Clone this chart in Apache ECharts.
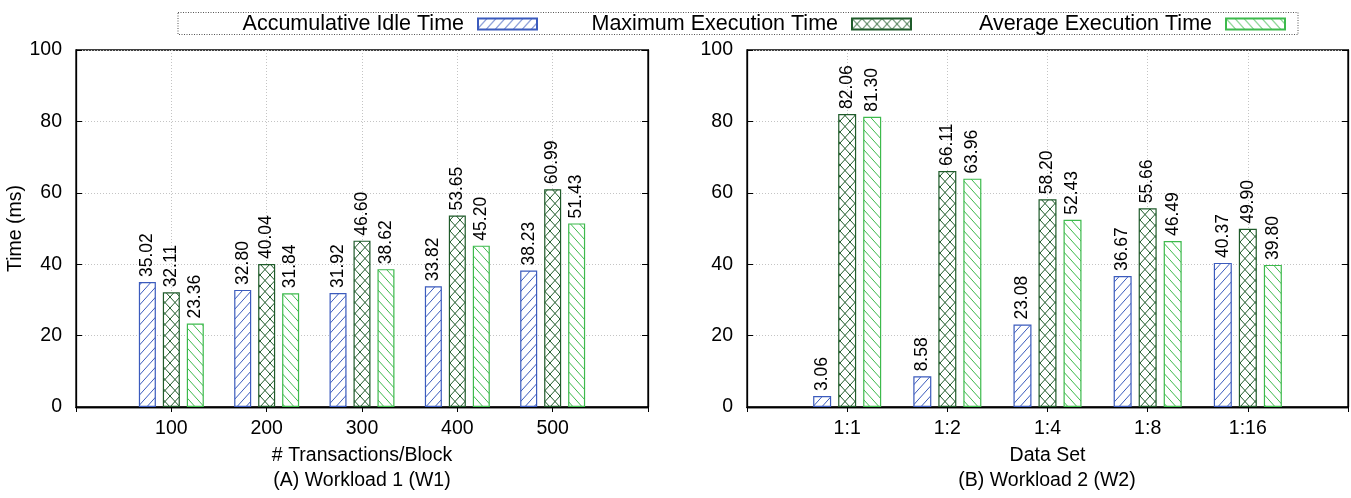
<!DOCTYPE html>
<html>
<head>
<meta charset="utf-8">
<title>Idle and Execution Time per Workload</title>
<script src="https://cdn.jsdelivr.net/npm/echarts@6/dist/echarts.min.js"></script>
<style>
  html, body { margin: 0; padding: 0; background: #fff; }
  #chart { width: 1351px; height: 498px; }
</style>
</head>
<body>
<div id="chart"></div>
<script>
// ---- data ----
const seriesNames = ['Accumulative Idle Time', 'Maximum Execution Time', 'Average Execution Time'];

const catsW1 = ['100', '200', '300', '400', '500'];
const idleW1 = [35.02, 32.80, 31.92, 33.82, 38.23];
const maxW1  = [32.11, 40.04, 46.60, 53.65, 60.99];
const avgW1  = [23.36, 31.84, 38.62, 45.20, 51.43];

const catsW2 = ['1:1', '1:2', '1:4', '1:8', '1:16'];
const idleW2 = [3.06, 8.58, 23.08, 36.67, 40.37];
const maxW2  = [82.06, 66.11, 58.20, 55.66, 49.90];
const avgW2  = [81.30, 63.96, 52.43, 46.49, 39.80];

const yMin = 0, yMax = 100, yStep = 20;

// ---- styling ----
const FONT = '"Liberation Sans", Arial, Helvetica, sans-serif';
const BLUE = '#3b5bbd';
const DARK = '#1f5b2a';
const LIGHT = '#3dba4c';

// hatch tiles used as bar fills
function hatchTile(color, w, h, dirs) {
  const c = document.createElement('canvas');
  c.width = w; c.height = h;
  const g = c.getContext('2d');
  g.fillStyle = '#fff';
  g.fillRect(0, 0, w, h);
  g.strokeStyle = color;
  g.lineWidth = 1;
  dirs.forEach(d => {
    for (let k = -1; k <= 1; k++) {
      g.beginPath();
      if (d === '/') {
        g.moveTo(k * w, h); g.lineTo((k + 1) * w, 0);
      } else {
        g.moveTo(k * w, 0); g.lineTo((k + 1) * w, h);
      }
      g.stroke();
    }
  });
  return { image: c, repeat: 'repeat' };
}

const fills = [
  hatchTile(BLUE, 9, 10, ['/']),
  hatchTile(DARK, 10, 11, ['/', '\\']),
  hatchTile(LIGHT, 9, 10, ['\\'])
];
const borders = [BLUE, DARK, LIGHT];

const pad = a => [null, ...a, null];
const padCats = a => ['', ...a, ''];

const AXIS_LINE = { show: true, lineStyle: { color: '#000', width: 1.3 } };
const GRID_LINE = { color: '#c4c4c4', type: [1, 2], width: 1 };

function bottomX(gridIndex, cats, name) {
  return {
    type: 'category', gridIndex, data: padCats(cats), boundaryGap: false,
    axisLine: AXIS_LINE,
    axisTick: { show: false },
    axisLabel: { interval: 0, margin: 12, color: '#000', fontSize: 19.5, fontFamily: FONT },
    splitLine: { show: true, interval: 0, lineStyle: GRID_LINE },
    name, nameLocation: 'middle', nameGap: 39,
    nameTextStyle: { color: '#000', fontSize: 19.5, fontFamily: FONT }
  };
}
function topX(gridIndex, cats) {
  return {
    type: 'category', gridIndex, data: padCats(cats), boundaryGap: false, position: 'top',
    axisLine: AXIS_LINE,
    axisTick: { show: true, inside: true, length: 5, interval: 0, lineStyle: { color: '#000' } },
    axisLabel: { show: false }, splitLine: { show: false }
  };
}
function leftY(gridIndex, name) {
  return {
    type: 'value', gridIndex, min: yMin, max: yMax, interval: yStep, position: 'left',
    axisLine: AXIS_LINE,
    axisTick: { show: true, inside: true, length: 6, lineStyle: { color: '#000' } },
    axisLabel: { margin: 14, color: '#000', fontSize: 19.5, fontFamily: FONT },
    splitLine: { show: true, lineStyle: GRID_LINE },
    name: name || '', nameLocation: 'middle', nameGap: 42,
    nameTextStyle: { color: '#000', fontSize: 19.5, fontFamily: FONT }
  };
}
function rightY(gridIndex) {
  return {
    type: 'value', gridIndex, min: yMin, max: yMax, interval: yStep, position: 'right',
    axisLine: AXIS_LINE,
    axisTick: { show: true, inside: true, length: 6, lineStyle: { color: '#000' } },
    axisLabel: { show: false }, splitLine: { show: false }
  };
}

function barSeries(i, values, xIdx, yIdx, width, gap) {
  return {
    type: 'bar', name: seriesNames[i], xAxisIndex: xIdx, yAxisIndex: yIdx,
    data: pad(values), barWidth: width, barGap: gap,
    itemStyle: { color: fills[i], borderColor: borders[i], borderWidth: 1.2 },
    label: {
      show: true, position: 'top', rotate: 90, align: 'left', verticalAlign: 'middle',
      distance: 5, color: '#000', fontSize: 17.5, fontFamily: FONT,
      formatter: p => (p.value == null ? '' : Number(p.value).toFixed(2))
    },
    emphasis: { disabled: true },
    animation: false
  };
}

function legendItem(i, right) {
  return {
    data: [seriesNames[i]], right, top: 13, orient: 'horizontal',
    align: 'right', padding: 0, itemWidth: 59, itemHeight: 11, itemGap: 0,
    icon: 'rect', selectedMode: false,
    textStyle: { color: '#000', fontSize: 21.5, fontFamily: FONT, padding: [0, 9, 0, 0] }
  };
}

const chart = echarts.init(document.getElementById('chart'), null, { renderer: 'canvas' });
chart.setOption({
  backgroundColor: '#fff',
  animation: false,
  legend: [legendItem(0, 1351 - 538), legendItem(1, 1351 - 912), legendItem(2, 1351 - 1286)],
  grid: [
    { left: 76, top: 50, width: 572, height: 357, show: true, borderColor: '#000', borderWidth: 1.3 },
    { left: 747, top: 50, width: 601, height: 357, show: true, borderColor: '#000', borderWidth: 1.3 }
  ],
  xAxis: [
    bottomX(0, catsW1, '# Transactions/Block'), topX(0, catsW1),
    bottomX(1, catsW2, 'Data Set'), topX(1, catsW2)
  ],
  yAxis: [leftY(0, 'Time (ms)'), rightY(0), leftY(1), rightY(1)],
  series: [
    barSeries(0, idleW1, 0, 0, 17, '41%'),
    barSeries(1, maxW1, 0, 0, 17, '41%'),
    barSeries(2, avgW1, 0, 0, 17, '41%'),
    barSeries(0, idleW2, 2, 2, 18, '39%'),
    barSeries(1, maxW2, 2, 2, 18, '39%'),
    barSeries(2, avgW2, 2, 2, 18, '39%')
  ],
  graphic: [
    {
      type: 'rect', silent: true, z: -1,
      shape: { x: 178, y: 12.5, width: 1120, height: 22 },
      style: { fill: 'none', stroke: '#555', lineWidth: 1, lineDash: [1, 1.5] }
    },
    {
      type: 'text', x: 362, y: 481, silent: true,
      style: { text: '(A) Workload 1 (W1)', fill: '#000', font: '19.5px ' + FONT, align: 'center', verticalAlign: 'middle' }
    },
    {
      type: 'text', x: 1047, y: 481, silent: true,
      style: { text: '(B) Workload 2 (W2)', fill: '#000', font: '19.5px ' + FONT, align: 'center', verticalAlign: 'middle' }
    }
  ]
});
</script>
</body>
</html>
